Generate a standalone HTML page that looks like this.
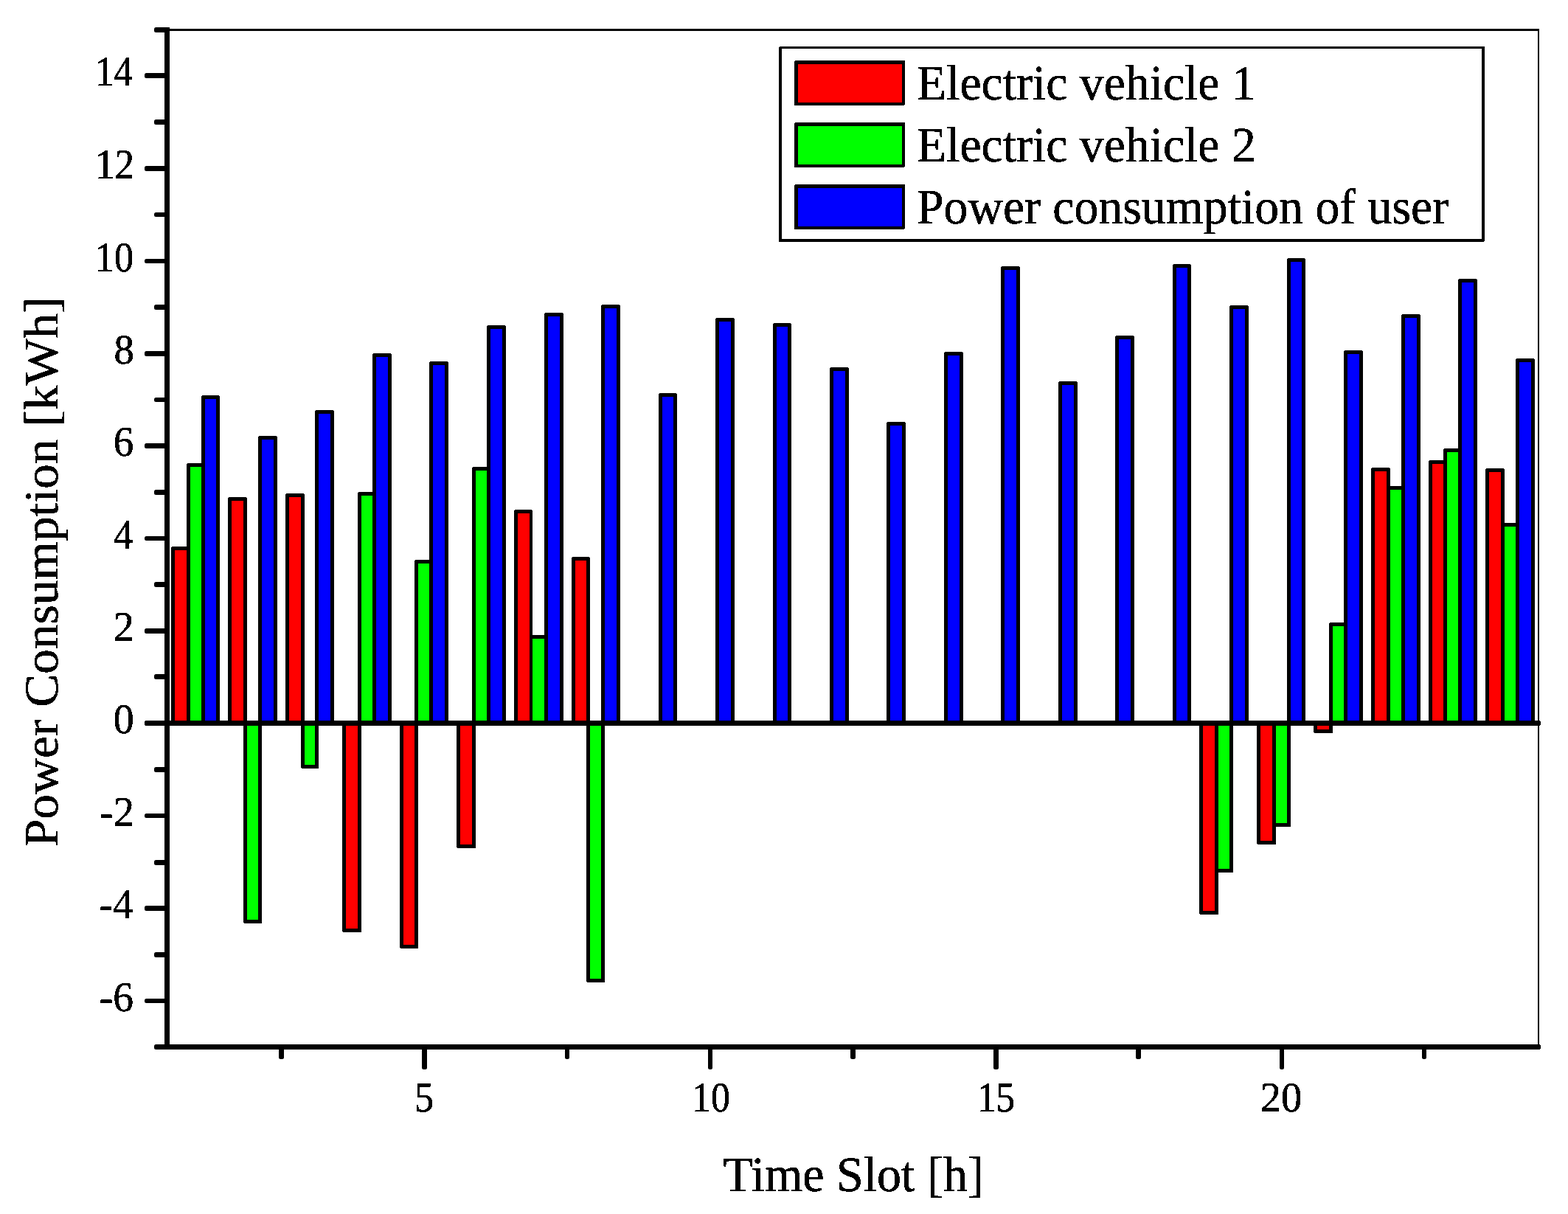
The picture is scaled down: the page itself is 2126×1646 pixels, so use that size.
<!DOCTYPE html>
<html lang="en"><head><meta charset="utf-8"><title>Power Consumption per Time Slot</title>
<style>
html,body{margin:0;padding:0;background:#fff;}
body{width:2126px;height:1646px;overflow:hidden;}
svg{display:block;}
text{font-family:"Liberation Serif","DejaVu Serif",serif;fill:#000;stroke:#000;stroke-width:0.5px;stroke-linejoin:round;filter:url(#bi);}
.tk{font-size:56px;}
.ti{font-size:67.5px;}
</style></head><body>
<svg width="2126" height="1646" viewBox="0 0 2126 1646">
<defs><filter id="bi" x="-5%" y="-20%" width="110%" height="140%" color-interpolation-filters="sRGB"><feComponentTransfer><feFuncA type="discrete" tableValues="0 1"/></feComponentTransfer></filter></defs>
<rect x="0" y="0" width="2126" height="1646" fill="#fff"/>
<g shape-rendering="crispEdges">
<path d="M233 741H257V742H258V981H232V742H233Z"/>
<rect x="237" y="746" width="16" height="235" fill="#ff0000"/>
<path d="M310 674H334V675H335V981H309V675H310Z"/>
<rect x="314" y="679" width="16" height="302" fill="#ff0000"/>
<path d="M388 669H412V670H413V981H387V670H388Z"/>
<rect x="392" y="674" width="16" height="307" fill="#ff0000"/>
<path d="M464 980H490V1264H465V1263H464V980Z"/>
<rect x="469" y="980" width="16" height="279" fill="#ff0000"/>
<path d="M542 980H567V1286H543V1285H542V980Z"/>
<rect x="547" y="980" width="15" height="301" fill="#ff0000"/>
<path d="M619 980H645V1150H620V1149H619V980Z"/>
<rect x="624" y="980" width="16" height="165" fill="#ff0000"/>
<path d="M698 691H721V692H722V981H697V692H698Z"/>
<rect x="702" y="696" width="16" height="285" fill="#ff0000"/>
<path d="M776 755H799V756H800V981H775V756H776Z"/>
<rect x="780" y="760" width="15" height="221" fill="#ff0000"/>
<path d="M1626 980H1652V1240H1627V1239H1626V980Z"/>
<rect x="1631" y="980" width="16" height="255" fill="#ff0000"/>
<path d="M1704 980H1730V1145H1705V1144H1704V980Z"/>
<rect x="1709" y="980" width="16" height="160" fill="#ff0000"/>
<path d="M1781 980H1807V994H1782V993H1781V980Z"/>
<rect x="1786" y="980" width="16" height="9" fill="#ff0000"/>
<path d="M1860 634H1884V635H1885V981H1859V635H1860Z"/>
<rect x="1864" y="639" width="16" height="342" fill="#ff0000"/>
<path d="M1938 624H1961V625H1962V981H1937V625H1938Z"/>
<rect x="1942" y="629" width="15" height="352" fill="#ff0000"/>
<path d="M2015 635H2039V636H2040V981H2014V636H2015Z"/>
<rect x="2019" y="640" width="16" height="341" fill="#ff0000"/>
<path d="M254 628H277V629H278V981H253V629H254Z"/>
<rect x="258" y="633" width="15" height="348" fill="#00ff00"/>
<path d="M330 980H355V1252H331V1251H330V980Z"/>
<rect x="335" y="980" width="15" height="267" fill="#00ff00"/>
<path d="M408 980H432V1042H409V1041H408V980Z"/>
<rect x="413" y="980" width="14" height="57" fill="#00ff00"/>
<path d="M486 667H509V668H510V981H485V668H486Z"/>
<rect x="490" y="672" width="15" height="309" fill="#00ff00"/>
<path d="M563 759H586V760H587V981H562V760H563Z"/>
<rect x="567" y="764" width="15" height="217" fill="#00ff00"/>
<path d="M641 633H664V634H665V981H640V634H641Z"/>
<rect x="645" y="638" width="15" height="343" fill="#00ff00"/>
<path d="M719 861H742V862H743V981H718V862H719Z"/>
<rect x="722" y="866" width="16" height="115" fill="#00ff00"/>
<path d="M795 980H820V1332H796V1331H795V980Z"/>
<rect x="800" y="980" width="15" height="347" fill="#00ff00"/>
<path d="M1647 980H1672V1183H1648V1182H1647V980Z"/>
<rect x="1652" y="980" width="15" height="198" fill="#00ff00"/>
<path d="M1725 980H1750V1121H1726V1120H1725V980Z"/>
<rect x="1730" y="980" width="15" height="136" fill="#00ff00"/>
<path d="M1803 844H1826V845H1827V981H1802V845H1803Z"/>
<rect x="1807" y="849" width="15" height="132" fill="#00ff00"/>
<path d="M1881 659H1904V660H1905V981H1880V660H1881Z"/>
<rect x="1885" y="664" width="15" height="317" fill="#00ff00"/>
<path d="M1958 608H1981V609H1982V981H1957V609H1958Z"/>
<rect x="1962" y="613" width="15" height="368" fill="#00ff00"/>
<path d="M2036 709H2059V710H2060V981H2035V710H2036Z"/>
<rect x="2040" y="714" width="15" height="267" fill="#00ff00"/>
<path d="M274 536H297V537H298V981H273V537H274Z"/>
<rect x="278" y="541" width="15" height="440" fill="#0000ff"/>
<path d="M351 591H375V592H376V981H350V592H351Z"/>
<rect x="355" y="596" width="16" height="385" fill="#0000ff"/>
<path d="M428 556H452V557H453V981H427V557H428Z"/>
<rect x="432" y="561" width="16" height="420" fill="#0000ff"/>
<path d="M506 479H530V480H531V981H505V480H506Z"/>
<rect x="510" y="484" width="16" height="497" fill="#0000ff"/>
<path d="M583 490H607V491H608V981H582V491H583Z"/>
<rect x="587" y="495" width="16" height="486" fill="#0000ff"/>
<path d="M661 441H685V442H686V981H660V442H661Z"/>
<rect x="665" y="446" width="16" height="535" fill="#0000ff"/>
<path d="M739 424H763V425H764V981H738V425H739Z"/>
<rect x="743" y="429" width="16" height="552" fill="#0000ff"/>
<path d="M816 413H840V414H841V981H815V414H816Z"/>
<rect x="820" y="418" width="16" height="563" fill="#0000ff"/>
<path d="M894 533H917V534H918V981H893V534H894Z"/>
<rect x="898" y="538" width="15" height="443" fill="#0000ff"/>
<path d="M971 431H995V432H996V981H970V432H971Z"/>
<rect x="975" y="436" width="16" height="545" fill="#0000ff"/>
<path d="M1049 438H1072V439H1073V981H1048V439H1049Z"/>
<rect x="1053" y="443" width="15" height="538" fill="#0000ff"/>
<path d="M1126 498H1150V499H1151V981H1125V499H1126Z"/>
<rect x="1130" y="503" width="16" height="478" fill="#0000ff"/>
<path d="M1203 572H1227V573H1228V981H1202V573H1203Z"/>
<rect x="1207" y="577" width="16" height="404" fill="#0000ff"/>
<path d="M1281 477H1305V478H1306V981H1280V478H1281Z"/>
<rect x="1285" y="482" width="16" height="499" fill="#0000ff"/>
<path d="M1358 361H1382V362H1383V981H1357V362H1358Z"/>
<rect x="1362" y="366" width="16" height="615" fill="#0000ff"/>
<path d="M1436 517H1460V518H1461V981H1435V518H1436Z"/>
<rect x="1440" y="522" width="16" height="459" fill="#0000ff"/>
<path d="M1513 455H1537V456H1538V981H1512V456H1513Z"/>
<rect x="1517" y="460" width="16" height="521" fill="#0000ff"/>
<path d="M1591 358H1614V359H1615V981H1590V359H1591Z"/>
<rect x="1595" y="363" width="15" height="618" fill="#0000ff"/>
<path d="M1668 414H1692V415H1693V981H1667V415H1668Z"/>
<rect x="1672" y="419" width="16" height="562" fill="#0000ff"/>
<path d="M1746 350H1769V351H1770V981H1745V351H1746Z"/>
<rect x="1750" y="355" width="15" height="626" fill="#0000ff"/>
<path d="M1823 475H1847V476H1848V981H1822V476H1823Z"/>
<rect x="1827" y="480" width="16" height="501" fill="#0000ff"/>
<path d="M1901 426H1925V427H1926V981H1900V427H1901Z"/>
<rect x="1905" y="431" width="16" height="550" fill="#0000ff"/>
<path d="M1978 378H2002V379H2003V981H1977V379H1978Z"/>
<rect x="1982" y="383" width="16" height="598" fill="#0000ff"/>
<path d="M2056 486H2080V487H2081V981H2055V487H2056Z"/>
<rect x="2060" y="491" width="16" height="490" fill="#0000ff"/>
</g>
<g shape-rendering="crispEdges" fill="#000">
<rect x="223" y="39" width="1864" height="3"/>
<rect x="2085" y="39" width="2" height="1380"/>
<rect x="223" y="37" width="7" height="1386"/>
<path d="M223 1416H2088V1417H2089V1422H2088V1423H223V1416Z"/>
<path d="M197 977H2088V978H2089V983H2088V984H197V983H196V978H197Z"/>
</g>
<g fill="#000">
<rect x="209" y="1416" width="17" height="7" rx="2.5"/>
<rect x="196" y="1354" width="30" height="6" rx="2.5"/>
<rect x="209" y="1291" width="17" height="7" rx="2.5"/>
<rect x="196" y="1228" width="30" height="7" rx="2.5"/>
<rect x="209" y="1166" width="17" height="7" rx="2.5"/>
<rect x="196" y="1103" width="30" height="6" rx="2.5"/>
<rect x="209" y="1040" width="17" height="7" rx="2.5"/>
<rect x="196" y="977" width="30" height="7" rx="2.5"/>
<rect x="209" y="914" width="17" height="7" rx="2.5"/>
<rect x="196" y="852" width="30" height="7" rx="2.5"/>
<rect x="209" y="789" width="17" height="7" rx="2.5"/>
<rect x="196" y="727" width="30" height="6" rx="2.5"/>
<rect x="209" y="664" width="17" height="7" rx="2.5"/>
<rect x="196" y="601" width="30" height="7" rx="2.5"/>
<rect x="209" y="539" width="17" height="6" rx="2.5"/>
<rect x="196" y="476" width="30" height="7" rx="2.5"/>
<rect x="209" y="413" width="17" height="7" rx="2.5"/>
<rect x="196" y="351" width="30" height="6" rx="2.5"/>
<rect x="209" y="288" width="17" height="6" rx="2.5"/>
<rect x="196" y="225" width="30" height="7" rx="2.5"/>
<rect x="209" y="162" width="17" height="7" rx="2.5"/>
<rect x="196" y="99" width="30" height="7" rx="2.5"/>
<rect x="209" y="37" width="17" height="7" rx="2.5"/>
<rect x="378" y="1420" width="7" height="16" rx="2.5"/>
<rect x="572" y="1420" width="7" height="30" rx="2.5"/>
<rect x="766" y="1420" width="6" height="16" rx="2.5"/>
<rect x="960" y="1420" width="6" height="30" rx="2.5"/>
<rect x="1153" y="1420" width="7" height="16" rx="2.5"/>
<rect x="1347" y="1420" width="7" height="30" rx="2.5"/>
<rect x="1540" y="1420" width="7" height="16" rx="2.5"/>
<rect x="1735" y="1420" width="6" height="30" rx="2.5"/>
<rect x="1928" y="1420" width="6" height="16" rx="2.5"/>
</g>
<text class="tk" transform="translate(129.30 116.40) scale(0.9040 1)">14</text>
<text class="tk" transform="translate(128.95 242.40) scale(0.9500 1)">12</text>
<text class="tk" transform="translate(129.00 368.40) scale(0.9310 1)">10</text>
<text class="tk" transform="translate(154.60 493.40) scale(0.9750 1)">8</text>
<text class="tk" transform="translate(153.80 618.40) scale(0.9850 1)">6</text>
<text class="tk" transform="translate(154.10 744.40) scale(0.9540 1)">4</text>
<text class="tk" transform="translate(153.60 869.40) scale(1.0200 1)">2</text>
<text class="tk" transform="translate(153.70 994.40) scale(1.0000 1)">0</text>
<text class="tk" transform="translate(134.80 1120.40) scale(1.0120 1)">-2</text>
<text class="tk" transform="translate(134.80 1245.40) scale(0.9770 1)">-4</text>
<text class="tk" transform="translate(134.80 1371.40) scale(0.9880 1)">-6</text>
<text class="tk" transform="translate(562.00 1506.60) scale(0.9300 1)">5</text>
<text class="tk" transform="translate(938.20 1506.60) scale(0.9240 1)">10</text>
<text class="tk" transform="translate(1325.20 1506.60) scale(0.9080 1)">15</text>
<text class="tk" transform="translate(1708.70 1506.60) scale(1.0100 1)">20</text>
<text class="ti" transform="translate(980.60 1615.00) scale(0.9780 1)">Time Slot [h]</text>
<text class="ti" transform="translate(78.20 1148.20) rotate(-90) scale(0.9995 0.9750)">Power Consumption [kWh]</text>
<g shape-rendering="crispEdges">
<path d="M1057 63H2013V327H2012V328H1056V64H1057Z"/>
<rect x="1060" y="66" width="949" height="258" fill="#fff"/>
<path d="M1078 82H1227V142H1226V143H1077V83H1078Z"/>
<rect x="1082" y="87" width="141" height="52" fill="#ff0000"/>
<path d="M1078 166H1227V226H1226V227H1077V167H1078Z"/>
<rect x="1082" y="171" width="141" height="52" fill="#00ff00"/>
<path d="M1078 250H1227V310H1226V311H1077V251H1078Z"/>
<rect x="1082" y="255" width="141" height="52" fill="#0000ff"/>
</g>
<text class="ti" transform="translate(1243.00 135.00) scale(0.9740 1)">Electric vehicle 1</text>
<text class="ti" transform="translate(1243.00 219.20) scale(0.9740 1)">Electric vehicle 2</text>
<text class="ti" transform="translate(1243.00 303.40) scale(0.9740 1)">Power consumption of user</text>
</svg>
</body></html>
